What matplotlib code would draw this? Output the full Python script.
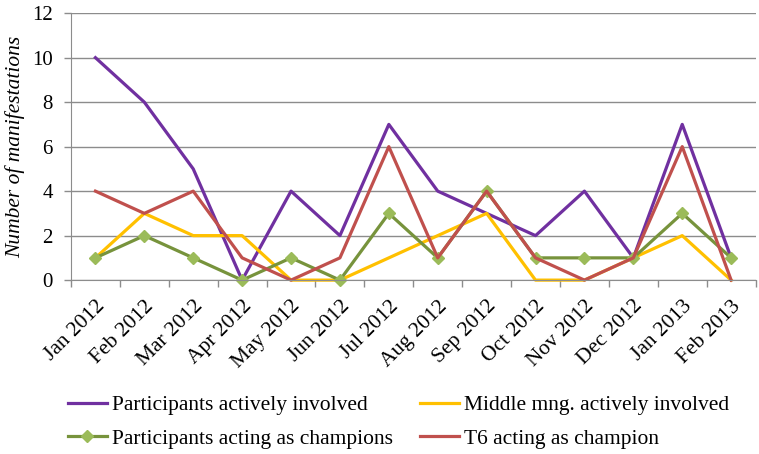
import numpy as np
import matplotlib.pyplot as plt

serif = 'Liberation Serif'

months = ['Jan 2012', 'Feb 2012', 'Mar 2012', 'Apr 2012', 'May 2012', 'Jun 2012',
          'Jul 2012', 'Aug 2012', 'Sep 2012', 'Oct 2012', 'Nov 2012', 'Dec 2012',
          'Jan 2013', 'Feb 2013']
participants = [10, 8, 5, 0, 4, 2, 7, 4, 3, 2, 4, 1, 7, 1]
middle_mng = [1, 3, 2, 2, 0, 0, 1, 2, 3, 0, 0, 1, 2, 0]
champions = [1, 2, 1, 0, 1, 0, 3, 1, 4, 1, 1, 1, 3, 1]
t6 = [4, 3, 4, 1, 0, 1, 6, 1, 4, 1, 0, 1, 6, 0]

grey = '#8c8c8c'
x = np.arange(len(months))

fig = plt.figure(figsize=(7.59, 4.54), dpi=100)
ax = fig.add_axes([0.0935, 0.383, 0.902, 0.588])

l1, = ax.plot(x, participants, color='#7030A0', lw=2.3, label='Participants actively involved')
l2, = ax.plot(x, middle_mng, color='#FFC000', lw=2.3, label='Middle mng. actively involved')
l3, = ax.plot(x, champions, color='#77933C', lw=2.3, marker='D', ms=6.5,
              mfc='#9BBB59', mec='#9BBB59', label='Participants acting as champions')
l4, = ax.plot(x, t6, color='#C0504D', lw=2.3, label='T6 acting as champion')

for l in (l1, l2, l3, l4):
    l.set_clip_on(False)

ax.set_xlim(-0.5, len(months) - 0.5)
ax.set_ylim(0, 12)
ax.set_yticks(range(0, 13, 2))
ax.set_yticklabels([str(v) for v in range(0, 13, 2)], family=serif, fontsize=15)
ax.set_xticks(x)
ax.set_xticklabels(months, rotation=45, ha='right', rotation_mode='anchor',
                   family=serif, fontsize=15.5)
ax.set_xticks(np.arange(-0.5, len(months)), minor=True)
ax.tick_params(axis='x', which='major', length=0, pad=12)
ax.tick_params(axis='x', which='minor', length=5, color=grey, width=1)
ax.tick_params(axis='y', length=5, color=grey, width=1, pad=8)
ax.yaxis.grid(True, color=grey, lw=1)
ax.set_axisbelow(True)
for s in ('top', 'right'):
    ax.spines[s].set_visible(False)
for s in ('left', 'bottom'):
    ax.spines[s].set_color(grey)
ax.set_ylabel('Number of manifestations', family=serif, fontsize=15.5,
              style='italic', labelpad=5)

fig.legend(handles=[l1, l3, l2, l4], ncol=2, loc='lower left',
           bbox_to_anchor=(0.064, -0.031), frameon=False,
           prop={'family': serif, 'size': 15.5},
           handlelength=1.8, handletextpad=0.25, columnspacing=1.25, labelspacing=0.62)

fig.savefig('out.png', dpi=100)
